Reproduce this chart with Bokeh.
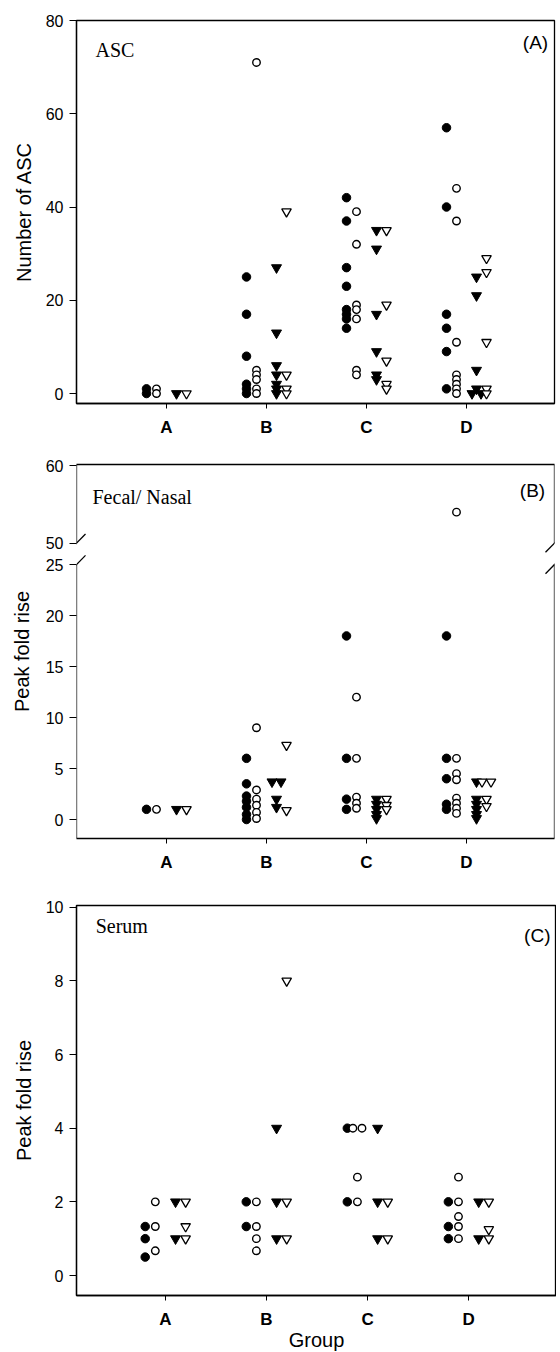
from bokeh.plotting import figure
from bokeh.models import ColumnDataSource, Range1d, FixedTicker, LinearAxis, Label, Arrow
from bokeh.layouts import column
from bokeh.embed import file_html
from bokeh.resources import INLINE

# ---------------- data ----------------
GROUPS = ["A", "B", "C", "D"]

# Panel A: ASC counts (one list per group A..D)
ASC_FILLED_CIRCLE = [[1, 0], [25, 17, 8, 2, 1, 0], [42, 37, 27, 23, 18, 17, 16, 14], [57, 40, 17, 14, 9, 1]]
ASC_OPEN_CIRCLE = [[1, 0], [71, 5, 4, 3, 1, 0], [39, 32, 19, 18, 16, 5, 4], [44, 37, 11, 4, 3, 2, 1, 0]]
ASC_FILLED_TRIANGLE = [[0], [27, 13, 6, 4, 2, 1, 0], [35, 31, 17, 9, 4, 3], [25, 21, 5, 1, 0, 0]]
ASC_OPEN_TRIANGLE = [[0], [39, 4, 1, 0], [35, 19, 7, 2, 1], [29, 26, 11, 1, 0]]

# Panel B: Fecal / Nasal peak fold rise
FN_FILLED_CIRCLE = [[1], [6, 3.5, 2.3, 1.8, 1.2, 0.5, 0], [18, 6, 2, 1], [18, 6, 4, 1.5, 1]]
FN_OPEN_CIRCLE = [[1], [9, 2.9, 2, 1.4, 0.7, 0.1], [12, 6, 2.2, 1.6, 1.1], [54, 6, 4.5, 3.9, 2.1, 1.6, 1.1, 0.6]]
FN_FILLED_TRIANGLE = [[1], [3.7, 3.7, 2, 1.2], [2, 1.5, 1, 0.5, 0.1], [3.7, 2, 1.5, 1, 0.5, 0.1]]
FN_OPEN_TRIANGLE = [[1], [7.3, 0.9], [2, 1.4, 1], [3.7, 3.7, 2, 1.3]]

# Panel C: Serum peak fold rise
SE_FILLED_CIRCLE = [[1.33, 1, 0.5], [2, 1.33], [4, 2], [2, 1.33, 1]]
SE_OPEN_CIRCLE = [[2, 1.33, 0.67], [2, 1.33, 1, 0.67], [4, 4, 2.67, 2], [2.67, 2, 1.6, 1.33, 1]]
SE_FILLED_TRIANGLE = [[2, 1], [4, 2, 1], [4, 2, 1], [2, 1]]
SE_OPEN_TRIANGLE = [[2, 1.33, 1], [8, 2, 1], [2, 1], [2, 1.25, 1]]

ASC_TICKS = [0, 20, 40, 60, 80]
FN_LOW_TICKS = [0, 5, 10, 15, 20, 25]
FN_HIGH_TICKS = [50, 60]
SE_TICKS = [0, 2, 4, 6, 8, 10]

# ---------------- styling ----------------
SANS = "Liberation Sans"
SERIF = "Liberation Serif"
LW = 1.3

COL_OFFSET = {"fc": -0.2, "oc": -0.1, "ft": 0.1, "ot": 0.2}
DODGE = 0.09
STYLE = {
    "fc": dict(marker="circle", size=8.5, fill_color="black", line_color="black", line_width=1),
    "oc": dict(marker="circle", size=7.5, fill_color="white", line_color="black", line_width=1.4),
    "ft": dict(marker="inverted_triangle", size=10, fill_color="black", line_color="black", line_width=1),
    "ot": dict(marker="inverted_triangle", size=9.5, fill_color="white", line_color="black", line_width=1.3),
}


def positions(per_group, key, keep=lambda v: True):
    xs, ys = [], []
    for gi, vals in enumerate(per_group):
        counts = {}
        for v in vals:
            counts[v] = counts.get(v, 0) + 1
        seen = {}
        for v in vals:
            k = counts[v]
            i = seen.get(v, 0)
            seen[v] = i + 1
            if not keep(v):
                continue
            xs.append(gi + 1 + COL_OFFSET[key] + (i - (k - 1) / 2) * DODGE)
            ys.append(v)
    return ColumnDataSource(dict(x=xs, y=ys))


def base_fig(frame_w, frame_h, xr, yr, mb_left, mb_right, mb_top, mb_bottom):
    p = figure(frame_width=frame_w, frame_height=frame_h,
               x_range=Range1d(*xr), y_range=Range1d(*yr),
               output_backend="svg", toolbar_location=None,
               min_border_left=mb_left, min_border_right=mb_right,
               min_border_top=mb_top, min_border_bottom=mb_bottom,
               background_fill_color="white", border_fill_color="white")
    p.xgrid.visible = False
    p.ygrid.visible = False
    p.outline_line_color = "black"
    p.outline_line_width = LW
    xa = p.xaxis[0]
    xa.ticker = FixedTicker(ticks=[1, 2, 3, 4])
    xa.major_label_overrides = {i + 1: g for i, g in enumerate(GROUPS)}
    xa.major_label_text_font = SANS
    xa.major_label_text_font_style = "bold"
    xa.major_label_text_font_size = "17px"
    xa.major_label_text_color = "black"
    xa.major_tick_out = 5
    xa.major_tick_in = 0
    xa.minor_tick_line_color = None
    xa.major_label_standoff = 9
    xa.axis_line_width = LW
    ya = p.yaxis[0]
    ya.major_label_text_font = SANS
    ya.major_label_text_font_size = "16px"
    ya.major_label_text_color = "black"
    ya.major_tick_out = 7
    ya.major_tick_in = 0
    ya.minor_tick_line_color = None
    ya.major_label_standoff = 6
    ya.axis_line_width = LW
    ya.axis_label_text_font = SANS
    ya.axis_label_text_font_size = "20px"
    ya.axis_label_text_font_style = "normal"
    ya.axis_label_text_color = "black"
    return p


def draw_series(p, data, keep=lambda v: True, y_range_name="default"):
    for key, per_group in data.items():
        src = positions(per_group, key, keep)
        p.scatter(x="x", y="y", source=src, y_range_name=y_range_name, **STYLE[key])


def corner_text(p, x, y, text, font, size, align="left"):
    p.add_layout(Label(x=x, y=y, text=text, text_font=font, text_font_size=size,
                       text_align=align, text_baseline="middle", text_color="black"))


def seg(p, x0, y0, x1, y1):
    p.add_layout(Arrow(start=None, end=None, x_start=x0, y_start=y0, x_end=x1, y_end=y1,
                       line_color="black", line_width=LW))


# ---------------- panel A ----------------
XR_AB = (0.1, 4.88)
pA = base_fig(478, 383, XR_AB, (-2.14, 80), 76, 4, 20, 43)
pA.yaxis[0].ticker = FixedTicker(ticks=ASC_TICKS)
pA.yaxis[0].axis_label = "Number of ASC"
pA.yaxis[0].axis_label_standoff = 8
draw_series(pA, {"fc": ASC_FILLED_CIRCLE, "oc": ASC_OPEN_CIRCLE,
                 "ft": ASC_FILLED_TRIANGLE, "ot": ASC_OPEN_TRIANGLE})
corner_text(pA, 0.29, 73.6, "ASC", SERIF, "20px")
corner_text(pA, 4.69, 75.3, "(A)", SANS, "19px", "center")

# ---------------- panel B (broken axis) ----------------
LOW_RANGE = (-1.86, 34.81)
BREAK_LOW, BREAK_HIGH = 25, 50
HIGH_AT = 27.1          # lower-axis coordinate where the upper segment starts
HIGH_SCALE = 0.76       # lower-axis units per upper-axis unit


def to_low(u):
    return HIGH_AT + (u - BREAK_HIGH) * HIGH_SCALE


HIGH_RANGE = (BREAK_HIGH + (LOW_RANGE[0] - HIGH_AT) / HIGH_SCALE,
              BREAK_HIGH + (LOW_RANGE[1] - HIGH_AT) / HIGH_SCALE)

pB = base_fig(478, 374, XR_AB, LOW_RANGE, 76, 4, 18, 46)
pB.outline_line_color = None
pB.extra_y_ranges = {"upper": Range1d(*HIGH_RANGE)}
high_pos = [to_low(t) for t in FN_HIGH_TICKS]
pB.yaxis[0].ticker = FixedTicker(ticks=FN_LOW_TICKS + high_pos)
pB.yaxis[0].major_label_overrides = {hp: str(t) for hp, t in zip(high_pos, FN_HIGH_TICKS)}
pB.yaxis[0].axis_label = "Peak fold rise"
pB.yaxis[0].axis_label_standoff = 10
pB.yaxis[0].axis_line_color = None
top_ax = LinearAxis(ticker=FixedTicker(ticks=[]), axis_line_width=LW,
                    major_tick_line_color=None, minor_tick_line_color=None,
                    major_label_text_font_size="0px")
pB.add_layout(top_ax, "above")
FN = {"fc": FN_FILLED_CIRCLE, "oc": FN_OPEN_CIRCLE, "ft": FN_FILLED_TRIANGLE, "ot": FN_OPEN_TRIANGLE}
draw_series(pB, FN, keep=lambda v: v <= BREAK_LOW)
draw_series(pB, FN, keep=lambda v: v > BREAK_LOW, y_range_name="upper")
# frame sides with the break, and the break slashes
SL_DX, SL_DY = 0.09, 0.9
for xe in XR_AB:
    seg(pB, xe, LOW_RANGE[0], xe, BREAK_LOW)
    seg(pB, xe, HIGH_AT, xe, LOW_RANGE[1])
    for ye in (BREAK_LOW, HIGH_AT):
        seg(pB, xe - SL_DX, ye - SL_DY, xe + SL_DX, ye + SL_DY)
corner_text(pB, 0.26, 31.6, "Fecal/ Nasal", SERIF, "20px")
corner_text(pB, 4.66, 32.25, "(B)", SANS, "19px", "center")

# ---------------- panel C ----------------
pC = base_fig(480, 390, (0.12, 4.87), (-0.543, 10.046), 68, 8, 21, 55)
pC.yaxis[0].ticker = FixedTicker(ticks=SE_TICKS)
pC.yaxis[0].axis_label = "Peak fold rise"
pC.yaxis[0].axis_label_standoff = 8
pC.xaxis[0].axis_label = "Group"
pC.xaxis[0].axis_label_text_font = SANS
pC.xaxis[0].axis_label_text_font_size = "20px"
pC.xaxis[0].axis_label_text_font_style = "normal"
pC.xaxis[0].axis_label_text_color = "black"
pC.xaxis[0].axis_label_standoff = -3
draw_series(pC, {"fc": SE_FILLED_CIRCLE, "oc": SE_OPEN_CIRCLE,
                 "ft": SE_FILLED_TRIANGLE, "ot": SE_OPEN_TRIANGLE})
corner_text(pC, 0.31, 9.5, "Serum", SERIF, "20px")
corner_text(pC, 4.68, 9.23, "(C)", SANS, "19px", "center")

layout = column(pA, pB, pC, spacing=0)
open("out.html", "w").write(file_html(layout, INLINE))
